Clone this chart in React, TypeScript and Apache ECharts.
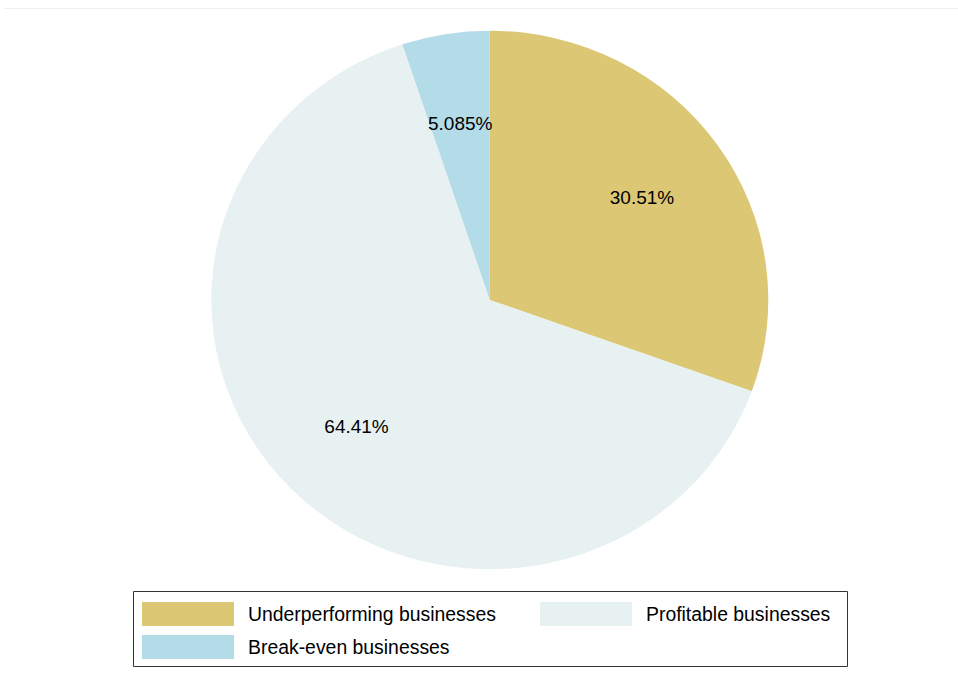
import React, { useEffect, useRef } from "react";
import * as echarts from "echarts";

const categories = ["Underperforming businesses", "Profitable businesses", "Break-even businesses"];
const shares = [30.51, 64.41, 5.085];
const colors = ["#DCC874", "#E8F1F2", "#B4DCE8"];

const FONT = "'Liberation Sans', Arial, sans-serif";
const CX = 489.8;
const CY = 300;
const RX = 278.5;
const RY = 269.3;
const LABEL_R = 186;

export default function App() {
  const ref = useRef<HTMLDivElement>(null);
  useEffect(() => {
    const chart = echarts.init(ref.current!, null, { renderer: "svg" });
    const total = shares.reduce((a, b) => a + b, 0);
    const legendText = { fontSize: 19.4, color: "#000", fontFamily: FONT, padding: [0, 0, 0, 9] };
    const series = categories.map((name, i) => ({
      type: "custom",
      name,
      coordinateSystem: "none",
      silent: true,
      itemStyle: { color: colors[i] },
      data: [shares[i]],
      renderItem: (_params: any, api: any) => {
        const v = api.value(0);
        let before = 0;
        for (let k = 0; k < i; k++) before += shares[k];
        const a0 = -Math.PI / 2 + (2 * Math.PI * before) / total;
        const a1 = a0 + (2 * Math.PI * v) / total;
        const mid = (a0 + a1) / 2;
        const sy = RY / RX;
        return {
          type: "group",
          children: [
            {
              type: "sector",
              x: CX,
              y: CY,
              scaleY: sy,
              shape: { cx: 0, cy: 0, r0: 0, r: RX, startAngle: a0, endAngle: a1, clockwise: true },
              style: { fill: colors[i], stroke: null, lineWidth: 0 },
            },
            {
              type: "text",
              z2: 10,
              x: CX + Math.cos(mid) * LABEL_R,
              y: CY + Math.sin(mid) * LABEL_R * sy + 1,
              style: {
                text: `${v}%`,
                fill: "#000",
                fontSize: 19,
                fontFamily: FONT,
                align: "center",
                verticalAlign: "middle",
              },
            },
          ],
        };
      },
    }));
    chart.setOption({
      animation: false,
      backgroundColor: "#ffffff",
      legend: [
        {
          orient: "vertical",
          left: 142,
          top: 602,
          padding: 0,
          itemWidth: 92,
          itemHeight: 24,
          itemGap: 9,
          icon: "rect",
          selectedMode: false,
          data: [
            { name: categories[0], itemStyle: { color: colors[0] } },
            { name: categories[2], itemStyle: { color: colors[2] } },
          ],
          textStyle: legendText,
        },
        {
          orient: "vertical",
          left: 540,
          top: 602,
          padding: 0,
          itemWidth: 92,
          itemHeight: 24,
          icon: "rect",
          selectedMode: false,
          data: [{ name: categories[1], itemStyle: { color: colors[1] } }],
          textStyle: legendText,
        },
      ],
      graphic: [
        {
          type: "line",
          shape: { x1: 4, y1: 8.5, x2: 958, y2: 8.5 },
          style: { stroke: "#EEEEEE", lineWidth: 1 },
          silent: true,
        },
        {
          type: "rect",
          shape: { x: 133.5, y: 591.5, width: 714, height: 75 },
          style: { fill: "none", stroke: "#333333", lineWidth: 1 },
          silent: true,
        },
      ],
      series,
    });
    return () => chart.dispose();
  }, []);
  return (
    <div
      ref={ref}
      style={{ position: "fixed", left: 0, top: 0, width: 958, height: 677 }}
    />
  );
}
